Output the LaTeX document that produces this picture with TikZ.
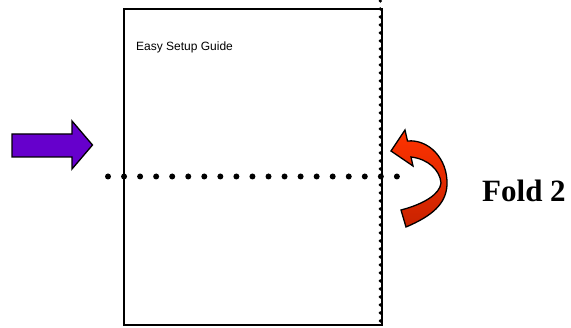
\documentclass[tikz,border=0pt]{standalone}
\usepackage{fontspec}
\setmainfont{Liberation Serif}
\newfontfamily\arialfont{Liberation Sans}
\definecolor{arrowpurple}{RGB}{102,0,204}
\definecolor{redtop}{RGB}{255,51,0}
\definecolor{redbottom}{RGB}{200,34,0}
\begin{document}
\begin{tikzpicture}[x=1pt,y=-1pt,
  pageborder/.style={line width=1.4pt},
  arrowshape/.style={draw=black,line width=1.3pt,line join=miter},
  bigdot/.style={fill=black},
  smalldot/.style={fill=black}]
\useasboundingbox (0,0) rectangle (571,328);
% page
\draw[pageborder] (124,9) rectangle (382,325);
% vertical dotted fold line
\foreach \y in {1,9,...,325} \fill[smalldot] (380.3,\y) circle (1.8);
% horizontal dotted fold line
\foreach \i in {0,...,18} \fill[bigdot] (108+16.05*\i,176.5) circle (3);
% purple arrow
\draw[arrowshape,fill=arrowpurple] (12,134) -- (72,134) -- (72,121) -- (92.5,145) -- (72,169) -- (72,157) -- (12,157) -- cycle;
% red curved arrow
\draw[arrowshape,top color=redtop,bottom color=redbottom]
  (391,151) -- (405,130) -- (407.5,141)
  .. controls (428,139) and (448,158) .. (447,185)
  .. controls (446,204) and (432,216) .. (406,227)
  -- (401,210)
  .. controls (424,204) and (440,194) .. (441,183)
  .. controls (440,170) and (428,159) .. (411,157)
  -- (413,166) -- cycle;
% texts
\node[anchor=base west,inner sep=0pt,font=\arialfont\fontsize{12}{14}\selectfont] (guide) at (136,51) {Easy Setup Guide};
\node[anchor=base west,inner sep=0pt,font=\bfseries\fontsize{31}{36}\selectfont] (fold) at (482,202) {Fold 2};
\end{tikzpicture}
\end{document}
